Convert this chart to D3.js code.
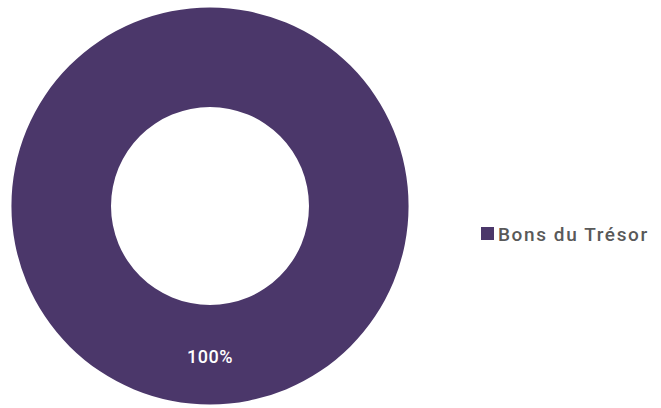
<!DOCTYPE html>
<html>
<head>
<meta charset="utf-8">
<script src="https://cdn.jsdelivr.net/npm/d3@7"></script>
<style>
  body { margin: 0; background: #fff; }
  text { font-family: "Roboto", "DejaVu Sans", sans-serif; }
</style>
</head>
<body>
<div id="chart"></div>
<script>
// Data
const categories = ["Bons du Trésor"];
const values = [100];
const colors = ["#4b376a"];

const width = 661;
const height = 408;

const svg = d3.select("#chart")
    .append("svg")
    .attr("width", width)
    .attr("height", height);

const cx = 210, cy = 206;
const outerR = 198.5, innerR = 99;

const pie = d3.pie().sort(null).value(d => d.value);
const arc = d3.arc().innerRadius(innerR).outerRadius(outerR);

const data = categories.map((c, i) => ({ name: c, value: values[i], color: colors[i] }));
const total = d3.sum(values);

const g = svg.append("g").attr("transform", `translate(${cx},${cy})`);

g.selectAll("path")
    .data(pie(data))
    .enter().append("path")
    .attr("d", arc)
    .attr("fill", d => d.data.color);

// Label in the middle of the ring, at the bottom for a full circle
function labelAngle(d) {
    return (d.endAngle - d.startAngle) >= 2 * Math.PI - 1e-6 ? Math.PI : (d.startAngle + d.endAngle) / 2;
}

g.selectAll("text.label")
    .data(pie(data))
    .enter().append("text")
    .attr("class", "label")
    .attr("x", d => Math.sin(labelAngle(d)) * (innerR + outerR) / 2)
    .attr("y", d => -Math.cos(labelAngle(d)) * (innerR + outerR) / 2 + 3)
    .attr("text-anchor", "middle")
    .attr("dominant-baseline", "middle")
    .attr("fill", "#fff")
    .attr("font-size", 18)
    .attr("font-weight", 500)
    .attr("letter-spacing", 0.5)
    .text(d => Math.round(d.data.value / total * 100) + "%");

// Legend
const legend = svg.append("g").attr("transform", "translate(481,227)");
const item = legend.selectAll("g")
    .data(data)
    .enter().append("g")
    .attr("transform", (d, i) => `translate(0,${i * 24})`);

item.append("rect")
    .attr("width", 13)
    .attr("height", 13)
    .attr("fill", d => d.color);

item.append("text")
    .attr("x", 17)
    .attr("y", 13.5)
    .attr("fill", "#595959")
    .attr("font-size", 19)
    .attr("font-weight", 500)
    .attr("letter-spacing", 1.6)
    .text(d => d.name);
</script>
</body>
</html>
